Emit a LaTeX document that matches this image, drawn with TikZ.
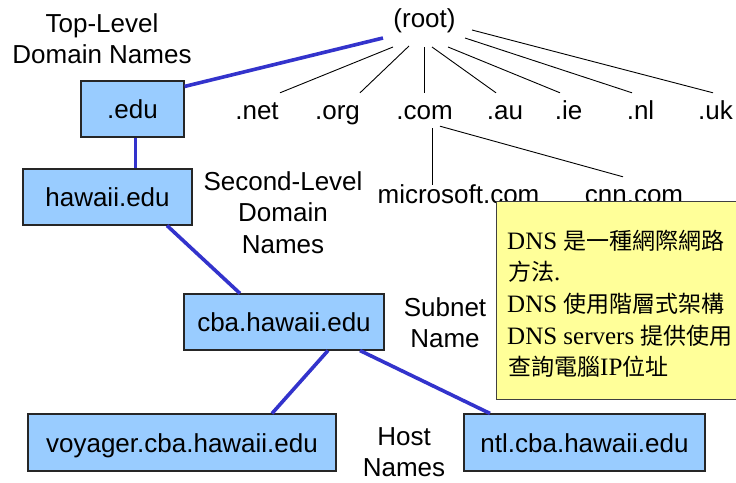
\documentclass[tikz,border=0pt]{standalone}
\usepackage{fontspec}
\setmainfont{Liberation Sans}
\newfontfamily\noteserif{Liberation Serif}
\newfontfamily\notecjk{Noto Sans CJK TC}
\usetikzlibrary{calc}
\definecolor{boxblue}{RGB}{153,204,255}
\definecolor{noteyellow}{RGB}{255,255,153}
\definecolor{linkblue}{RGB}{51,51,204}
% Chinese runs inside the note
\newcommand\hanzi[1]{{\fontsize{23pt}{31.5pt}\notecjk #1}}
% strut fixing the height of a caption's first line
\newcommand\capline{\rule{0pt}{20pt}}
\begin{document}
\begin{tikzpicture}[x=1pt,y=-1pt,
  every node/.style={font=\fontsize{26pt}{31.5pt}\selectfont},
  domainbox/.style={draw=black!85, line width=1.1pt, fill=boxblue, inner sep=0pt,
    text height=19pt, text depth=0pt},
  tld/.style={anchor=base, inner xsep=0pt, inner ysep=7pt, text height=19pt, text depth=0pt},
  caption/.style={align=center, anchor=north, inner sep=0pt},
  treeline/.style={line width=0.9pt, black},
  bluelink/.style={line width=3.6pt, linkblue},
  notebox/.style={draw=black!75, line width=1pt, fill=noteyellow, inner sep=0pt},
  noteline/.style={anchor=base west, inner sep=0pt, font=\fontsize{25pt}{31.5pt}\noteserif}
]
\clip (0,0) rectangle (736,482);
\fill[white] (0,0) rectangle (736,482);

% root and top-level domains
\node[anchor=base, inner sep=0pt] (root) at (424.5,27) {(root)};
\node[tld] (net) at (257,119) {.net};
\node[tld] (org) at (337.5,119) {.org};
\node[tld] (com) at (424.5,119) {.com};
\node[tld] (au)  at (505,119) {.au};
\node[tld] (ie)  at (568.5,119) {.ie};
\node[tld] (nl)  at (640.5,119) {.nl};
\node[tld] (uk)  at (715.5,119) {.uk};

\draw[treeline] ($(root.base)+(-31.5,20)$) -- ($(net.north)+(23,0)$);
\draw[treeline] ($(root.base)+(-15.5,19)$) -- ($(org.north)+(22.5,0)$);
\draw[treeline] ($(root.base)+(0,20)$) -- (com.north);
\draw[treeline] ($(root.base)+(7.5,20)$) -- ($(au.north)+(-9,0)$);
\draw[treeline] ($(root.base)+(23.5,20)$) -- ($(ie.north)+(-8.5,0)$);
\draw[treeline] ($(root.base)+(40.5,11)$) -- ($(nl.north)+(-8.5,0)$);
\draw[treeline] ($(root.base)+(47.5,3)$) -- ($(uk.north)+(-2.5,0)$);

% second-level domains under .com
\node[tld, inner ysep=1pt] (ms)  at (458.5,203) {microsoft.com};
\node[tld, inner ysep=1pt] (cnn) at (634,203) {cnn.com};
\draw[treeline] ($(com.south)+(7.5,2)$) -- ($(ms.north)+(-26.5,2)$);
\draw[treeline] ($(com.south)+(15.5,0)$) -- ($(cnn.north)+(-11,-6)$);

% the hawaii.edu branch
\node[domainbox, minimum width=103pt, minimum height=56pt] (edu) at (132.5,109) {.edu};
\node[domainbox, minimum width=169pt, minimum height=56pt] (hawaii) at (107.5,197) {hawaii.edu};
\node[domainbox, minimum width=200pt, minimum height=56pt] (cba) at (284,322) {cba.hawaii.edu};
\node[domainbox, minimum width=308pt, minimum height=57pt] (voyager) at (182,442.5) {voyager.cba.hawaii.edu};
\node[domainbox, minimum width=241pt, minimum height=57pt] (ntl) at (584.5,442.5) {ntl.cba.hawaii.edu};

\draw[bluelink] ($(edu.north east)+(0,6)$) -- ($(root.base)+(-41.5,11)$);
\draw[bluelink] ($(edu.south)+(3,0)$) -- ($(hawaii.north)+(28,0)$);
\draw[bluelink] ($(hawaii.south)+(59.5,0)$) -- ($(cba.north)+(-44,0)$);
\draw[bluelink] ($(cba.south)+(44,0)$) -- ($(voyager.north)+(90,0)$);
\draw[bluelink] ($(cba.south)+(76,0)$) -- ($(ntl.north)+(-94.5,0)$);

% level captions
\node[caption] (toplevel) at (102,12) {\capline Top-Level\\Domain Names};
\node[caption] (secondlevel) at (283,170) {\capline Second-Level\\Domain\\Names};
\node[caption] (subnet) at (445,296) {\capline Subnet\\Name};
\node[caption] (host) at (404,425) {\capline Host\\Names};

% explanatory note, running on past the right edge
\node[notebox, anchor=north west, minimum width=300pt, minimum height=198pt] (note) at (496,201) {};
\node[noteline] (n1) at (507,249) {DNS \hanzi{是一種網際網路}};
\node[noteline] (n2) at (508,280) {\hanzi{方法}.};
\node[noteline] (n3) at (507,312) {DNS \hanzi{使用階層式架構}};
\node[noteline] (n4) at (507,344) {DNS servers \hanzi{提供使用}};
\node[noteline] (n5) at (508,375) {\hanzi{查詢電腦}IP\hanzi{位址}};
\end{tikzpicture}
\end{document}
